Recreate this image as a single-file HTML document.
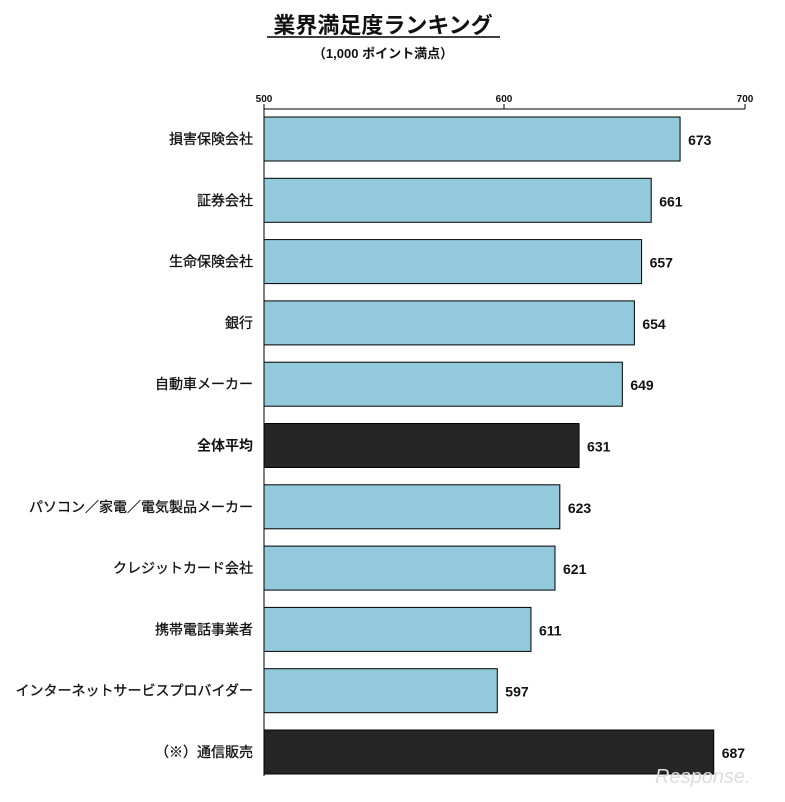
<!DOCTYPE html>
<html><head><meta charset="utf-8"><style>
body{margin:0;background:#fff;}
svg text{font-family:"Liberation Sans","Noto Sans CJK JP",sans-serif;}
</style></head><body>
<svg width="785" height="797" xmlns="http://www.w3.org/2000/svg">
<text x="383" y="33" font-size="22" font-weight="bold" text-anchor="middle" fill="#111">業界満足度ランキング</text>
<line x1="267" y1="37" x2="500" y2="37" stroke="#000" stroke-width="1.5"/>
<text x="383" y="58" font-size="13" font-weight="bold" text-anchor="middle" fill="#111">（1,000 ポイント満点）</text>
<g font-size="10" font-weight="bold" text-anchor="middle" fill="#111">
<text x="264" y="102">500</text><text x="504" y="102">600</text><text x="745" y="102">700</text></g>
<line x1="264" y1="109" x2="745" y2="109" stroke="#000"/>
<line x1="264" y1="104" x2="264" y2="776" stroke="#000"/>
<line x1="504" y1="104" x2="504" y2="109" stroke="#000"/>
<line x1="745" y1="104" x2="745" y2="109" stroke="#000"/>
<g id="bars" font-size="14" font-weight="bold" fill="#111"></g>
<text x="655" y="783" font-size="20" fill="#ddd" font-style="italic">Response.</text>
</svg>
<script>
var d=[["損害保険会社",673,0],["証券会社",661,0],["生命保険会社",657,0],["銀行",654,0],["自動車メーカー",649,0],["全体平均",631,1],["パソコン／家電／電気製品メーカー",623,0],["クレジットカード会社",621,0],["携帯電話事業者",611,0],["インターネットサービスプロバイダー",597,0],["（※）通信販売",687,1]];
var g=document.getElementById("bars"),s="";
d.forEach(function(r,i){var y=117+i*61.3,w=(r[1]-500)*2.405;
s+='<rect x="264" y="'+y+'" width="'+w+'" height="44" fill="'+(r[2]?'#262626':'#92cadc')+'" stroke="#000" stroke-width="1"/>';
s+='<text x="'+(264+w+8)+'" y="'+(y+28)+'">'+r[1]+'</text>';
s+='<text x="253" y="'+(y+27)+'" text-anchor="end" font-size="14" font-weight="'+(i==5?'bold':'normal')+'" stroke="#111" stroke-width="'+(i==5?0:0.3)+'">'+r[0]+'</text>';});
g.innerHTML=s;
</script>
</body></html>
